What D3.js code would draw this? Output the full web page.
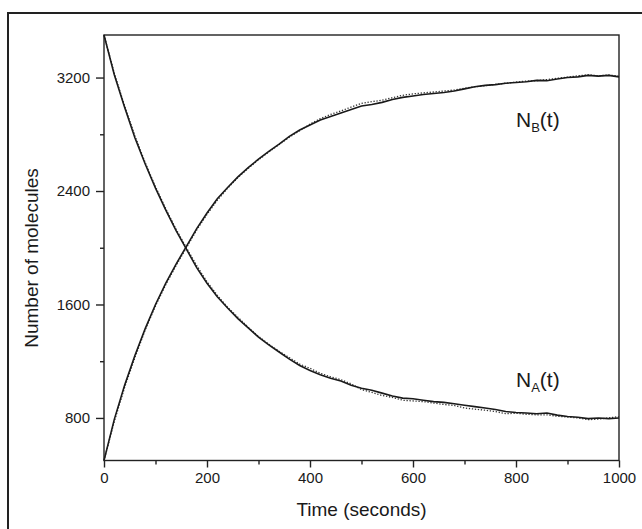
<!DOCTYPE html>
<html>
<head>
<meta charset="utf-8">
<script src="https://cdn.jsdelivr.net/npm/d3@7"></script>
<style>
  body { margin: 0; background: #fff; }
  text { font-family: "Liberation Sans", Arial, sans-serif; fill: #1a1a1a; }
</style>
</head>
<body>
<script>
// time points (seconds)
var timeValues = [0, 20, 40, 60, 80, 100, 120, 140, 160, 180, 200, 220, 240, 260, 280, 300,
  320, 340, 360, 380, 400, 420, 440, 460, 480, 500, 520, 540, 560, 580, 600, 620, 640, 660,
  680, 700, 720, 740, 760, 780, 800, 820, 840, 860, 880, 900, 920, 940, 960, 980, 1000];

// N_A(t), solid trace
var naSolid = [3500, 3220, 2990, 2775, 2590, 2420, 2265, 2120, 1990, 1860, 1750, 1655, 1575,
  1500, 1435, 1370, 1315, 1265, 1215, 1170, 1135, 1105, 1080, 1060, 1030, 1010, 995, 975, 955,
  940, 935, 925, 915, 910, 900, 890, 880, 870, 860, 845, 838, 835, 830, 835, 820, 810, 805,
  795, 800, 795, 800];

// N_A(t), dotted trace
var naDotted = [3500, 3230, 3000, 2790, 2600, 2430, 2275, 2130, 2000, 1875, 1760, 1665, 1580,
  1510, 1440, 1375, 1320, 1270, 1225, 1180, 1150, 1115, 1090, 1070, 1040, 1000, 980, 958, 945,
  925, 920, 915, 905, 895, 888, 870, 862, 855, 845, 830, 833, 826, 822, 822, 812, 806, 800,
  788, 792, 800, 810];

// N_B(t), solid trace
var nbSolid = [500, 790, 1030, 1240, 1430, 1600, 1750, 1885, 2010, 2135, 2245, 2345, 2425,
  2500, 2565, 2625, 2680, 2730, 2785, 2830, 2865, 2900, 2925, 2950, 2975, 3000, 3010, 3025,
  3045, 3060, 3070, 3080, 3088, 3095, 3105, 3120, 3135, 3145, 3150, 3160, 3165, 3170, 3180,
  3178, 3190, 3200, 3205, 3215, 3210, 3215, 3205];

// N_B(t), dotted trace
var nbDotted = [500, 775, 1015, 1225, 1420, 1590, 1740, 1875, 2000, 2125, 2235, 2335, 2420,
  2495, 2560, 2620, 2675, 2728, 2780, 2825, 2872, 2910, 2940, 2965, 2992, 3018, 3030, 3040,
  3058, 3075, 3085, 3092, 3098, 3105, 3112, 3125, 3135, 3142, 3152, 3160, 3168, 3175, 3178,
  3186, 3195, 3203, 3212, 3220, 3212, 3218, 3210];

var xMajor = [0, 200, 400, 600, 800, 1000];
var xMinor = [100, 300, 500, 700, 900];
var yMajor = [800, 1600, 2400, 3200];
var yMinor = [1200, 2000, 2800];

var W = 642, H = 529;
var plotL = 104, plotR = 619, plotT = 35, plotB = 460.5;

var svg = d3.select("body").append("svg")
    .attr("width", W)
    .attr("height", H);

// outer frame (runs off the right and bottom of the picture)
svg.append("rect")
    .attr("x", 8).attr("y", 13)
    .attr("width", 700).attr("height", 600)
    .attr("fill", "none")
    .attr("stroke", "#222")
    .attr("stroke-width", 2);

var x = d3.scaleLinear().domain([0, 1000]).range([plotL, plotR]);
var y = d3.scaleLinear().domain([500, 3500]).range([plotB, plotT]);

// plot box
svg.append("rect")
    .attr("x", plotL).attr("y", plotT)
    .attr("width", plotR - plotL).attr("height", plotB - plotT)
    .attr("fill", "none")
    .attr("stroke", "#222")
    .attr("stroke-width", 1.4);

// X axis, major + minor ticks
svg.append("g")
    .attr("transform", "translate(0," + plotB + ")")
    .call(d3.axisBottom(x).tickValues(xMajor).tickSize(7).tickPadding(5).tickFormat(d3.format("d")));
svg.append("g")
    .attr("transform", "translate(0," + plotB + ")")
    .call(d3.axisBottom(x).tickValues(xMinor).tickSize(4).tickFormat(""));

// Y axis
svg.append("g")
    .attr("transform", "translate(" + plotL + ",0)")
    .call(d3.axisLeft(y).tickValues(yMajor).tickSize(8).tickPadding(6).tickFormat(d3.format("d")));
svg.append("g")
    .attr("transform", "translate(" + plotL + ",0)")
    .call(d3.axisLeft(y).tickValues(yMinor).tickSize(4).tickFormat(""));

svg.selectAll(".domain").remove();
svg.selectAll(".tick line").attr("stroke", "#222").attr("stroke-width", 1.4);
svg.selectAll(".tick text")
    .attr("font-family", "Liberation Sans, Arial, sans-serif")
    .style("font-size", "15px")
    .attr("fill", "#1a1a1a");

// the traces
var line = d3.line()
    .x(function(d, i) { return x(timeValues[i]); })
    .y(function(d) { return y(d); });

svg.append("path").datum(naDotted)
    .attr("d", line)
    .attr("fill", "none")
    .attr("stroke", "#333")
    .attr("stroke-width", 1.3)
    .attr("stroke-dasharray", "1.3,1.7");
svg.append("path").datum(nbDotted)
    .attr("d", line)
    .attr("fill", "none")
    .attr("stroke", "#333")
    .attr("stroke-width", 1.3)
    .attr("stroke-dasharray", "1.3,1.7");
svg.append("path").datum(naSolid)
    .attr("d", line)
    .attr("fill", "none")
    .attr("stroke", "#1a1a1a")
    .attr("stroke-width", 1.6);
svg.append("path").datum(nbSolid)
    .attr("d", line)
    .attr("fill", "none")
    .attr("stroke", "#1a1a1a")
    .attr("stroke-width", 1.6);

// curve labels
function curveLabel(px, py, sub) {
  var t = svg.append("text")
      .attr("x", px).attr("y", py)
      .style("font-size", "21px");
  t.append("tspan").text("N");
  t.append("tspan").attr("dy", 5).style("font-size", "13px").text(sub);
  t.append("tspan").attr("dy", -5).text("(t)");
}
curveLabel(516, 127, "B");
curveLabel(516, 387, "A");

// axis titles
svg.append("text")
    .attr("x", (plotL + plotR) / 2)
    .attr("y", 516)
    .style("text-anchor", "middle")
    .style("font-size", "19px")
    .text("Time (seconds)");

svg.append("text")
    .attr("transform", "translate(38,258) rotate(-90)")
    .style("text-anchor", "middle")
    .style("font-size", "19px")
    .text("Number of molecules");
</script>
</body>
</html>
